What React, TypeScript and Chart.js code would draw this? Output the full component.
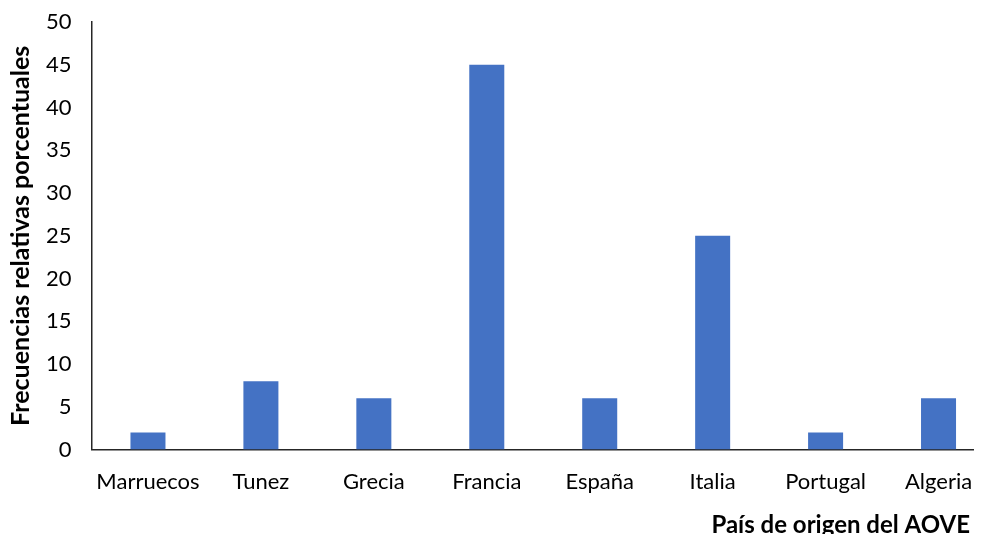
import React, { useEffect, useRef } from "react";
import { Chart, registerables } from "chart.js";

Chart.register(...registerables);

const categories = ["Marruecos", "Tunez", "Grecia", "Francia", "España", "Italia", "Portugal", "Algeria"];
const values = [2, 8, 6, 45, 6, 25, 2, 6];
const yTitle = "Frecuencias relativas porcentuales";
const xTitle = "País de origen del AOVE";

const FONT = "Lato, Calibri, 'Open Sans', sans-serif";

export default function App() {
  const ref = useRef<HTMLCanvasElement | null>(null);

  useEffect(() => {
    if (!ref.current) return;
    const xTitlePlugin = {
      id: "xTitlePlugin",
      afterDraw(chart: any) {
        const ctx = chart.ctx;
        ctx.save();
        ctx.font = `bold 24px ${FONT}`;
        ctx.fillStyle = "#000";
        ctx.textAlign = "right";
        ctx.textBaseline = "middle";
        ctx.fillText(xTitle, chart.chartArea.right - 25, chart.height - 17);
        ctx.restore();
      },
    };
    const chart = new Chart(ref.current, {
      type: "bar",
      data: {
        labels: categories,
        datasets: [
          {
            data: values,
            backgroundColor: "#4472C4",
            barPercentage: 0.31,
            categoryPercentage: 1,
          },
        ],
      },
      options: {
        animation: false,
        responsive: false,
        maintainAspectRatio: false,
        layout: { padding: { top: 22, right: 5, bottom: 28, left: 6 } },
        plugins: { legend: { display: false }, tooltip: { enabled: false } },
        scales: {
          x: {
            grid: { display: false, drawTicks: false },
            border: { display: true, color: "#262626", width: 1.5 },
            ticks: { color: "#000", font: { family: FONT, size: 22 }, padding: 19 },
            afterFit: (s: any) => {
              s.paddingLeft = 0;
              s.paddingRight = 0;
            },
          },
          y: {
            min: 0,
            max: 50,
            grid: { display: false, drawTicks: false },
            border: { display: true, color: "#262626", width: 1.5 },
            ticks: { stepSize: 5, color: "#000", font: { family: FONT, size: 22 }, padding: 20 },
            title: {
              display: true,
              text: yTitle,
              color: "#000",
              font: { family: FONT, size: 25, weight: "bold" },
              padding: { top: 0, bottom: 9 },
            },
            afterFit: (s: any) => {
              s.paddingTop = 0;
              s.paddingBottom = 0;
              s.width = 85.5;
            },
          },
        },
      },
      plugins: [xTitlePlugin],
    });
    return () => chart.destroy();
  }, []);

  return (
    <div style={{ margin: -8, width: 982, height: 542, overflow: "hidden", position: "relative" }}>
      <canvas ref={ref} width={1000} height={542} style={{ display: "block", width: 1000, height: 542 }} />
    </div>
  );
}
